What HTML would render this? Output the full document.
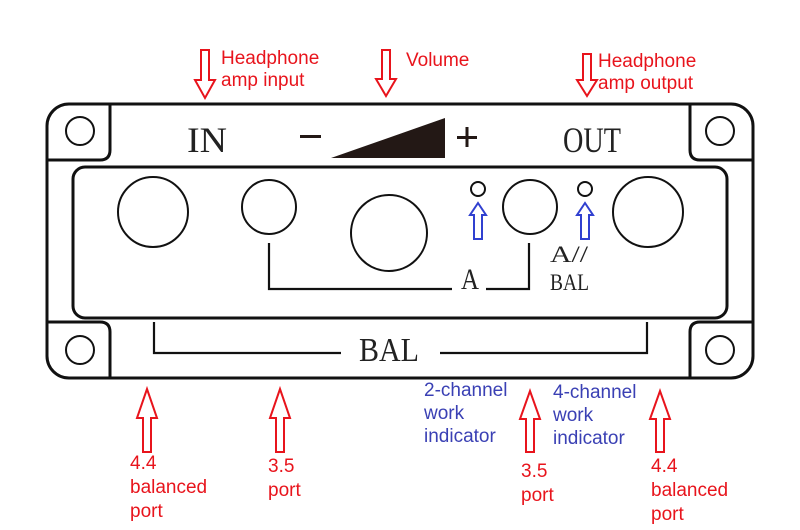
<!DOCTYPE html>
<html><head><meta charset="utf-8"><style>
html,body{margin:0;padding:0;background:#fff;}
svg{display:block;}
.r{fill:#e8141c;font-family:"Liberation Sans",sans-serif;font-size:19px;}
.b{fill:#3a40b4;font-family:"Liberation Sans",sans-serif;font-size:19px;}
.s{font-family:"Liberation Serif",serif;fill:#222;}
</style></head><body>
<svg width="800" height="530" viewBox="0 0 800 530" xmlns="http://www.w3.org/2000/svg">
<g fill="none" stroke="#111" stroke-width="3">
<rect x="47" y="104" width="706" height="274" rx="22"/>
<path d="M110 104 V150 Q110 160 100 160 H47"/>
<path d="M690 104 V150 Q690 160 700 160 H753"/>
<path d="M110 378 V332 Q110 322 100 322 H47"/>
<path d="M690 378 V332 Q690 322 700 322 H753"/>
<rect x="73" y="167" width="654" height="151" rx="12"/>
</g>
<g fill="none" stroke="#111" stroke-width="2">
<circle cx="80" cy="131" r="14"/><circle cx="720" cy="131" r="14"/>
<circle cx="80" cy="350" r="14"/><circle cx="720" cy="350" r="14"/>
<circle cx="153" cy="212" r="35"/><circle cx="269" cy="207" r="27"/>
<circle cx="389" cy="233" r="38"/><circle cx="530" cy="207" r="27"/>
<circle cx="648" cy="212" r="35"/>
<circle cx="478" cy="189" r="7"/><circle cx="585" cy="189" r="7"/>
</g>
<g fill="none" stroke="#111" stroke-width="2.2">
<path d="M269 243 V289 H452"/><path d="M486 289 H529 V243"/>
<path d="M154 322 V353 H341"/><path d="M440 353 H647 V322"/>
</g>
<polygon points="331,158 445,118 445,158" fill="#231815"/>
<rect x="300" y="135" width="21" height="3" fill="#231815"/>
<rect x="457" y="136" width="20" height="3" fill="#231815"/>
<rect x="465.5" y="127" width="3" height="20" fill="#231815"/>
<text x="187" y="152" class="s" font-size="36" textLength="40" lengthAdjust="spacingAndGlyphs">IN</text>
<text x="563" y="152" class="s" font-size="36" textLength="58" lengthAdjust="spacingAndGlyphs">OUT</text>
<text x="461" y="289" class="s" font-size="30" textLength="18" lengthAdjust="spacingAndGlyphs">A</text>
<text x="550" y="262" class="s" font-size="23" textLength="38" lengthAdjust="spacingAndGlyphs">A//</text>
<text x="550" y="290" class="s" font-size="23" textLength="39" lengthAdjust="spacingAndGlyphs">BAL</text>
<text x="359" y="361" class="s" font-size="34" textLength="60" lengthAdjust="spacingAndGlyphs">BAL</text>
<g fill="none" stroke="#3040d0" stroke-width="2">
<path d="M474 239 V215 H470 L478 203 L486 215 H482 V239 Z"/>
<path d="M581 239 V215 H577 L585 203 L593 215 H589 V239 Z"/>
</g>
<g fill="#fff" stroke="#e8141c" stroke-width="2">
<path d="M201 50 H209 V80 H215 L205 98 L195 80 H201 Z"/>
<path d="M382 50 H390 V79 H396 L386 96 L376 79 H382 Z"/>
<path d="M583 54 H591 V80 H597 L587 96 L577 80 H583 Z"/>
<path d="M143 452 V418 H137 L147 389 L157 418 H151 V452 Z"/>
<path d="M276 452 V418 H270 L280 389 L290 418 H284 V452 Z"/>
<path d="M526 452 V419 H520 L530 391 L540 419 H534 V452 Z"/>
<path d="M656 452 V419 H650 L660 391 L670 419 H664 V452 Z"/>
</g>
<text x="221" y="64" class="r">Headphone</text>
<text x="221" y="86" class="r">amp input</text>
<text x="406" y="66" class="r">Volume</text>
<text x="598" y="67" class="r">Headphone</text>
<text x="598" y="89" class="r">amp output</text>
<text x="130" y="469" class="r">4.4</text>
<text x="130" y="493" class="r">balanced</text>
<text x="130" y="517" class="r">port</text>
<text x="268" y="472" class="r">3.5</text>
<text x="268" y="496" class="r">port</text>
<text x="521" y="477" class="r">3.5</text>
<text x="521" y="501" class="r">port</text>
<text x="651" y="472" class="r">4.4</text>
<text x="651" y="496" class="r">balanced</text>
<text x="651" y="520" class="r">port</text>
<text x="424" y="396" class="b">2-channel</text>
<text x="424" y="419" class="b">work</text>
<text x="424" y="442" class="b">indicator</text>
<text x="553" y="398" class="b">4-channel</text>
<text x="553" y="421" class="b">work</text>
<text x="553" y="444" class="b">indicator</text>
</svg>
</body></html>
